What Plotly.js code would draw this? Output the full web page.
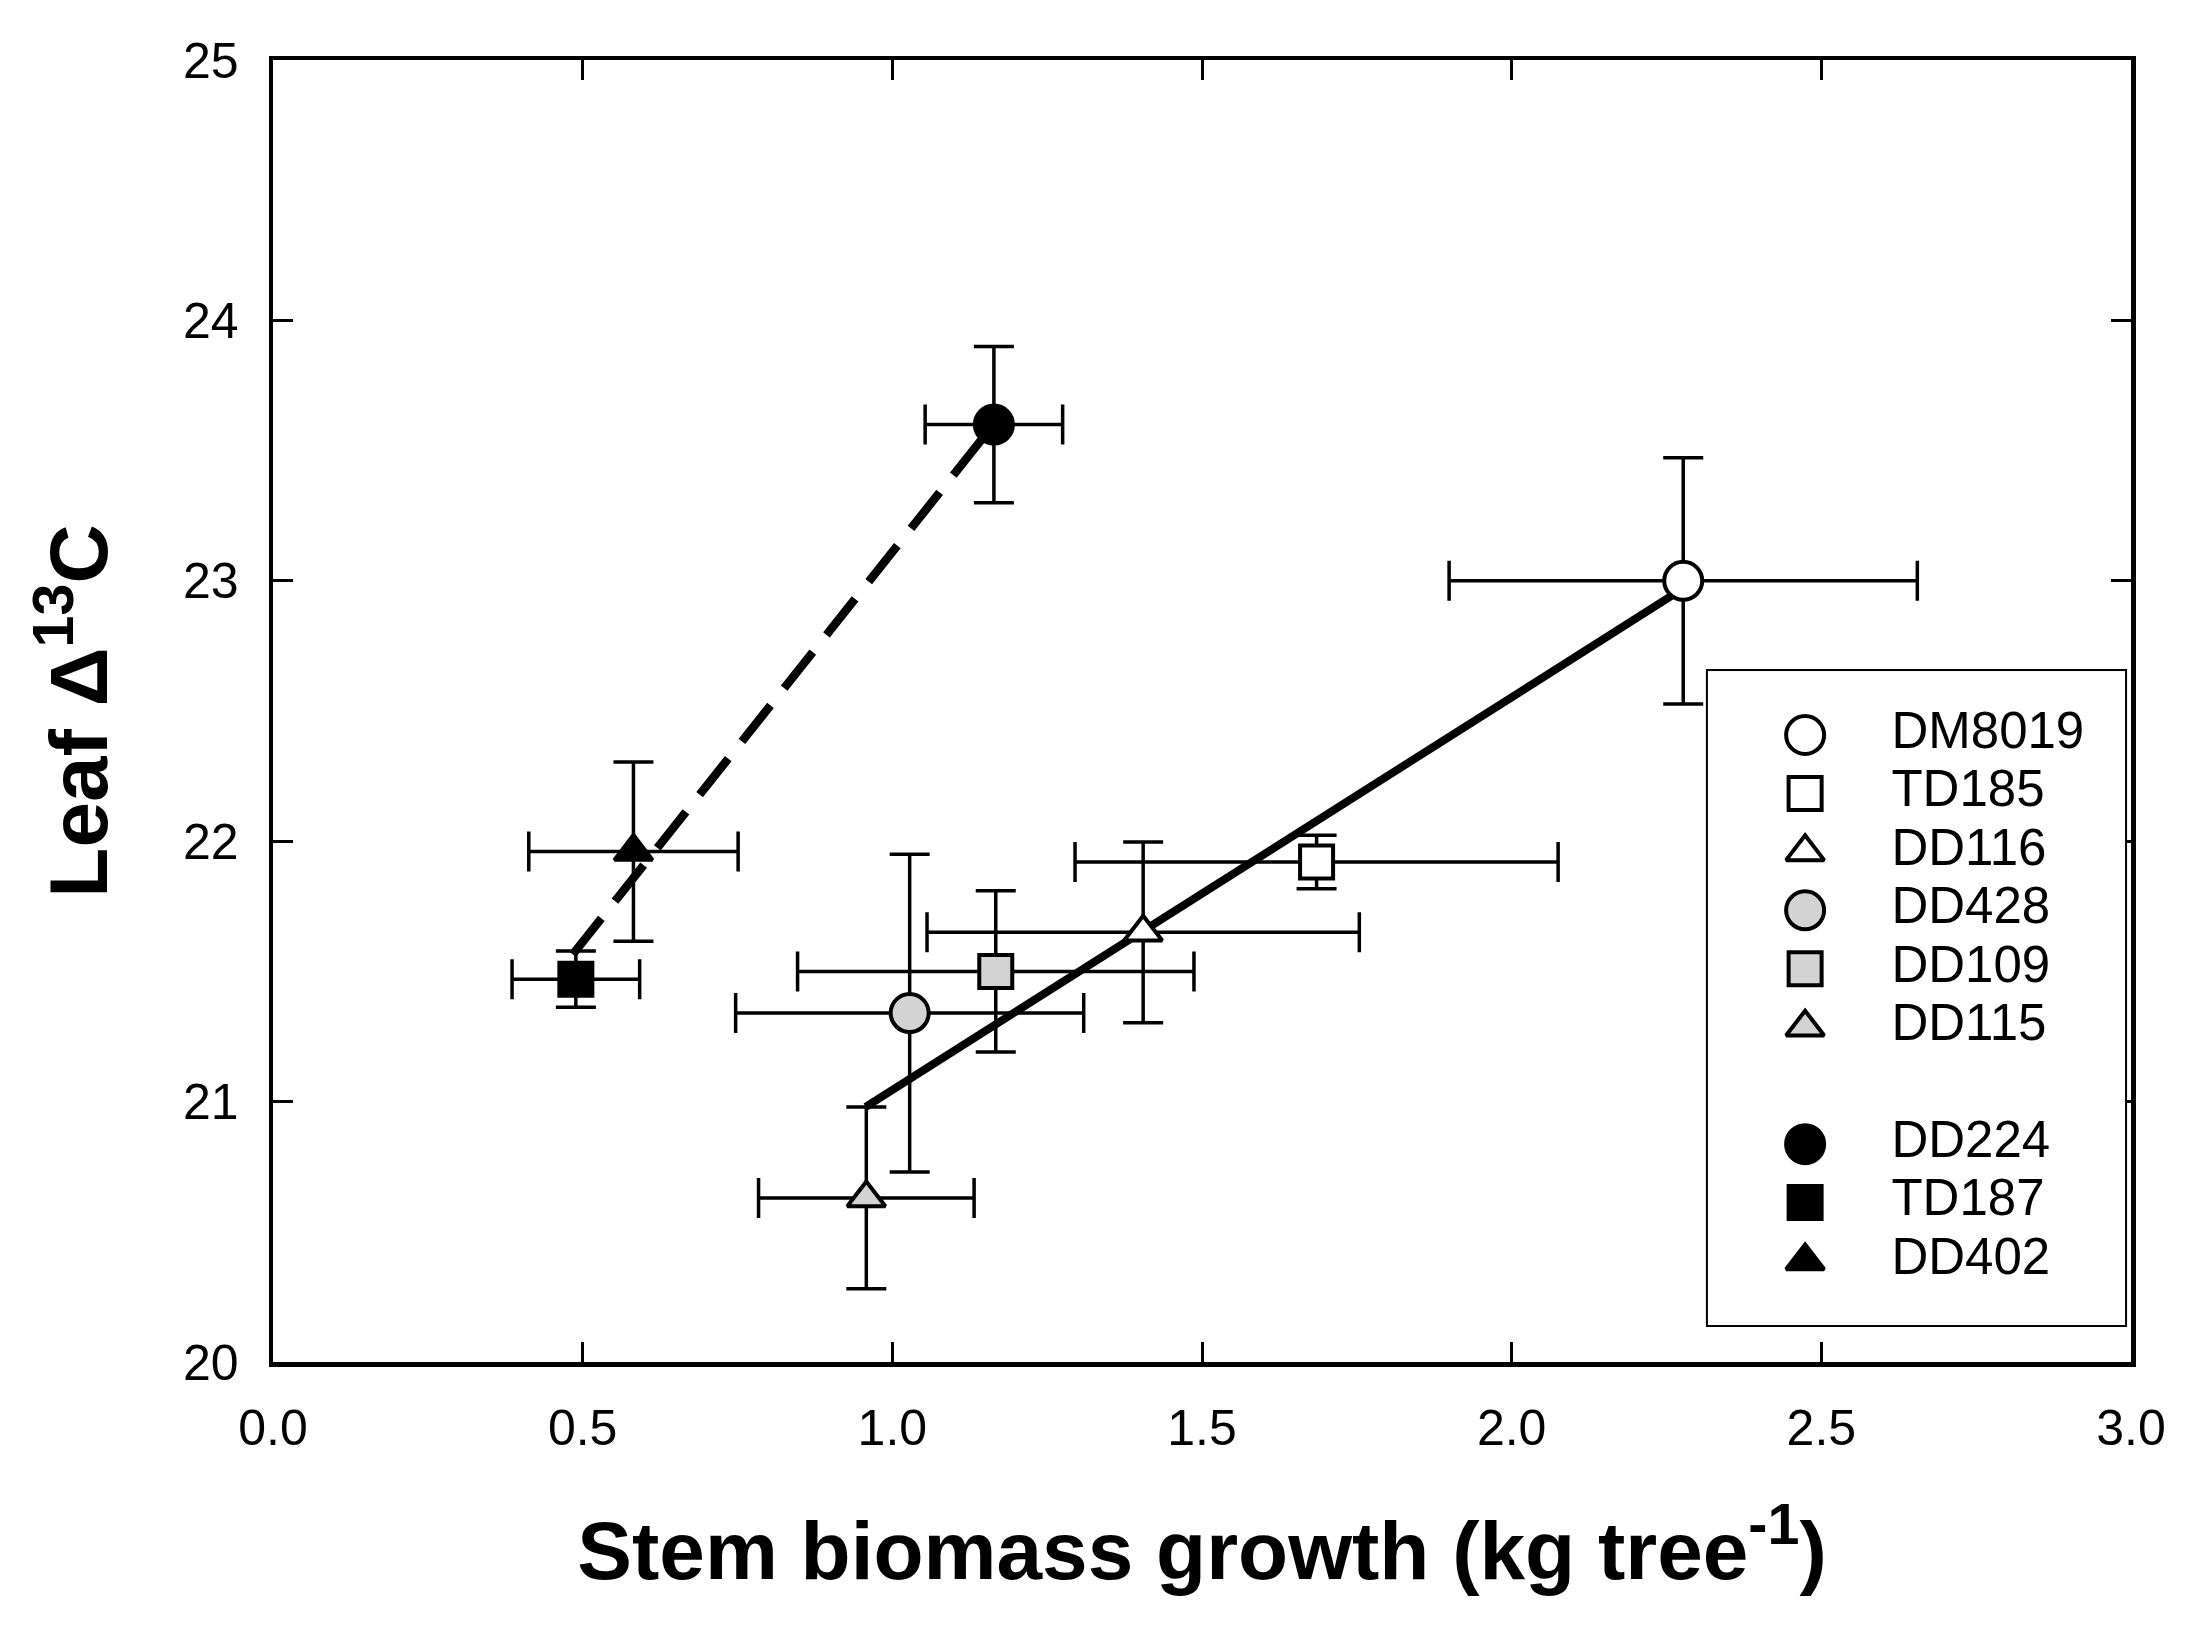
<!DOCTYPE html>
<html>
<head>
<meta charset="utf-8">
<script src="https://cdn.plot.ly/plotly-3.0.1.min.js"></script>
<style>
  html, body { margin: 0; padding: 0; background: #fff; }
  #plot { width: 2191px; height: 1628px; }
</style>
</head>
<body>
<div id="plot"></div>
<script>
// genotype means with standard errors
const genotypes = ['DM8019', 'TD185', 'DD116', 'DD428', 'DD109', 'DD115', 'DD224', 'TD187', 'DD402'];
const growth = [2.277, 1.685, 1.405, 1.028, 1.167, 0.958, 1.164, 0.489, 0.582];
const growthErr = [0.378, 0.39, 0.349, 0.281, 0.32, 0.174, 0.111, 0.103, 0.169];
const leafD13C = [23.00, 21.92, 21.65, 21.34, 21.50, 20.63, 23.60, 21.47, 21.96];
const leafErr = [0.473, 0.103, 0.347, 0.61, 0.31, 0.349, 0.30, 0.108, 0.344];

// regression lines (solid: first six genotypes, dashed: last three)
const fitSolidX = [0.957, 2.27];
const fitSolidY = [20.98, 22.96];
const fitDashX = [0.484, 1.164];
const fitDashY = [21.565, 23.602];

// marker styles, one per genotype
const symbols = ['circle', 'square', 'triangle-up', 'circle', 'square', 'triangle-up', 'circle', 'square', 'triangle-up'];
const fills = ['#ffffff', '#ffffff', '#ffffff', '#d3d3d3', '#d3d3d3', '#d3d3d3', '#000000', '#000000', '#000000'];
const sizes = {'circle': 38, 'square': 33, 'triangle-up': 33};

const FONT = 'Liberation Sans, Arial, Helvetica, sans-serif';

let traces = [];

// fit lines go under the markers
traces.push({
    x: fitSolidX, y: fitSolidY, mode: 'lines', showlegend: false, hoverinfo: 'skip',
    line: {color: '#000', width: 8}
});
traces.push({
    x: fitDashX, y: fitDashY, mode: 'lines', showlegend: false, hoverinfo: 'skip',
    line: {color: '#000', width: 8.5, dash: '46px,22px'}
});

for (let i = 0; i < genotypes.length; i++) {
    traces.push({
        x: [growth[i]],
        y: [leafD13C[i]],
        name: genotypes[i],
        mode: 'markers',
        showlegend: false,
        marker: {
            symbol: symbols[i],
            size: sizes[symbols[i]],
            color: fills[i],
            opacity: 1,
            line: {color: '#000', width: 4}
        },
        error_x: {type: 'data', array: [growthErr[i]], color: '#000', thickness: 3.5, width: 20},
        error_y: {type: 'data', array: [leafErr[i]], color: '#000', thickness: 3.5, width: 20}
    });
}

// legend drawn on its own hidden axes so symbols keep their full size
// rows: first group 0..5, a blank row, then the second group
let legendRows = genotypes.map((g, i) => i < 6 ? i : i + 1);
traces.push({
    x: genotypes.map(() => 0.233),
    y: legendRows,
    xaxis: 'x2', yaxis: 'y2',
    mode: 'markers', showlegend: false, hoverinfo: 'skip',
    marker: {
        symbol: symbols,
        size: symbols.map(s => sizes[s]),
        color: fills,
        opacity: 1,
        line: {color: '#000', width: 4}
    }
});
traces.push({
    x: genotypes.map(() => 0.44),
    y: legendRows,
    xaxis: 'x2', yaxis: 'y2',
    mode: 'text', text: genotypes, textposition: 'middle right',
    showlegend: false, hoverinfo: 'skip',
    textfont: {family: FONT, size: 51, color: '#000'}
});

let legendX = [0.7723, 0.9968];
let legendY = [0.0284, 0.5307];

let axisCommon = {
    showline: true, linewidth: 4.5, linecolor: '#000', mirror: 'ticks',
    ticks: 'inside', ticklen: 20, tickwidth: 3, tickcolor: '#000',
    showgrid: false, zeroline: false,
    tickfont: {family: FONT, size: 50, color: '#000'}
};

let layout = {
    width: 2191, height: 1628,
    margin: {l: 273, r: 60, t: 60, b: 266},
    paper_bgcolor: '#fff', plot_bgcolor: '#fff',
    showlegend: false,
    xaxis: Object.assign({}, axisCommon, {
        range: [0, 3], tick0: 0, dtick: 0.5, tickformat: '.1f',
        ticklabelstandoff: 18,
        title: {
            text: 'Stem biomass growth (kg tree<sup>-1</sup>)',
            font: {family: FONT, size: 82, weight: 'bold', color: '#000'},
            standoff: 68
        }
    }),
    yaxis: Object.assign({}, axisCommon, {
        range: [20, 25], tick0: 20, dtick: 1,
        ticklabelstandoff: 20,
        title: {
            text: 'Leaf Δ<sup>13</sup>C',
            font: {family: FONT, size: 82, weight: 'bold', color: '#000'},
            standoff: 49
        }
    }),
    xaxis2: {domain: legendX, range: [0, 1], visible: false, anchor: 'y2', fixedrange: true},
    yaxis2: {domain: legendY, range: [10.094, -1.094], visible: false, anchor: 'x2', fixedrange: true},
    shapes: [{
        type: 'rect', xref: 'paper', yref: 'paper',
        x0: legendX[0], x1: legendX[1], y0: legendY[0], y1: legendY[1],
        line: {color: '#000', width: 4}, fillcolor: '#fff', layer: 'below'
    }]
};

Plotly.newPlot('plot', traces, layout, {staticPlot: true});
</script>
</body>
</html>
